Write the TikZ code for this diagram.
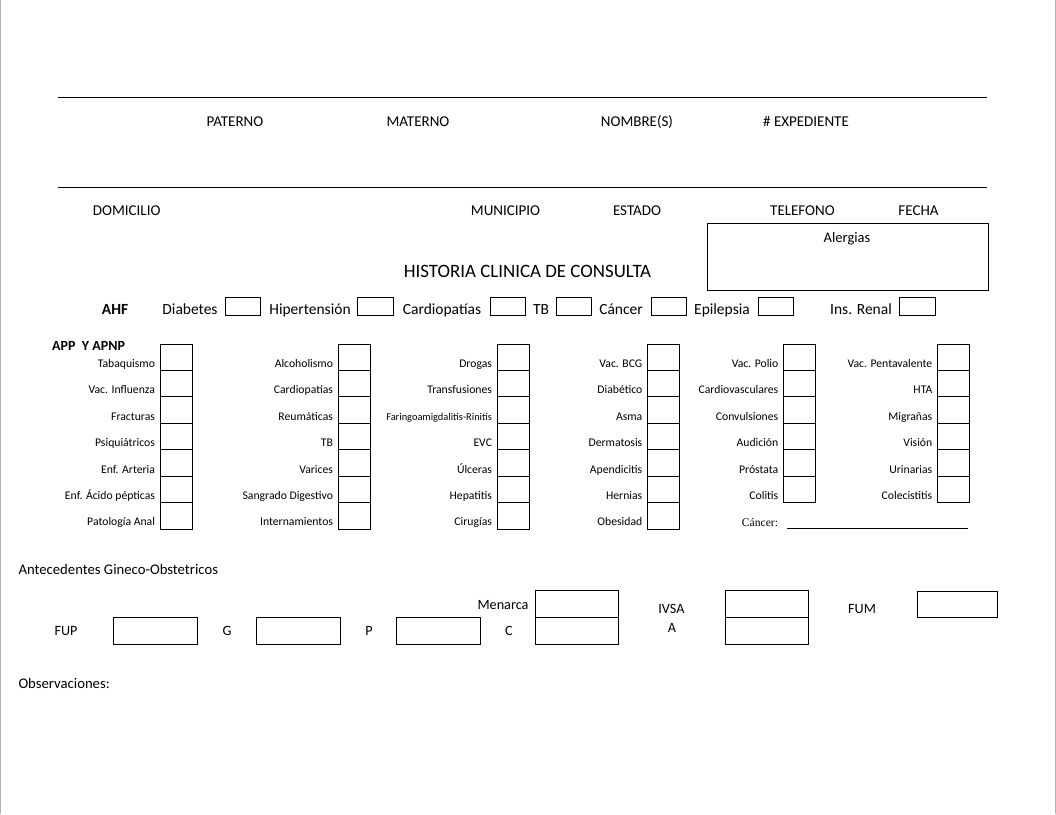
\documentclass[tikz,border=0pt]{standalone}
\usepackage{fontspec}
\setmainfont{Carlito}
\newfontfamily\tnrfont{Liberation Serif}
\begin{document}
\begin{tikzpicture}[x=1pt,y=-1pt,line width=1pt,
  hdr/.style={font=\fontsize{15}{17}\selectfont,inner sep=0pt,anchor=mid},
  tbl/.style={font=\fontsize{11.7}{13}\selectfont,inner sep=0pt,anchor=mid east},
  ahf/.style={font=\fontsize{15.5}{17}\selectfont,inner sep=0pt,anchor=mid},
  gyn/.style={font=\fontsize{14.2}{16}\selectfont,inner sep=0pt,anchor=mid},
  cell/.style={draw,line width=1pt},
  rule/.style={line width=1pt}]
\useasboundingbox (0,0) rectangle (1056,814);
% page edges
\draw[gray!60,line width=1pt] (0.5,0) -- (0.5,814);
\draw[gray!60,line width=1pt] (1055,0) -- (1055,814);
% header lines
\coordinate (l1a) at (58,97); \coordinate (l1b) at (987,97);
\coordinate (l2a) at (58,187.3); \coordinate (l2b) at (987,187.3);
\draw[rule] (l1a) -- (l1b);
\draw[rule] (l2a) -- (l2b);
\node[hdr] (paterno) at (235,123.8) {PATERNO};
\node[hdr] (materno) at (418,123.8) {MATERNO};
\node[hdr] (nombre) at (637,123.8) {NOMBRE(S)};
\node[hdr] (exped) at (806,123.8) {\# EXPEDIENTE};
\node[hdr] (domic) at (126.7,213.5) {DOMICILIO};
\node[hdr] (munic) at (505.5,213.5) {MUNICIPIO};
\node[hdr] (estado) at (637,213.5) {ESTADO};
\node[hdr] (tel) at (802.5,213.5) {TELEFONO};
\node[hdr] (fecha) at (918.5,213.5) {FECHA};
% alergias
\draw[cell] (707.3,223.3) rectangle (988.3,290);
\node[gyn,font=\fontsize{14.5}{16}\selectfont] (alerg) at (847,240) {Alergias};
% title
\node[inner sep=0pt,anchor=mid,font=\fontsize{18.9}{21}\selectfont] (title) at (527.5,275.5) {HISTORIA CLINICA DE CONSULTA};
% AHF row
\node[ahf,font=\fontsize{15.5}{17}\selectfont\bfseries] (ahf) at (115,312.3) {AHF};
\foreach \t/\cx/\ba/\bb [count=\i] in {Diabetes/190/225/260.3,Hipertensión/310/357.7/393.8,Cardiopatías/442/490/525,TB/541/556.6/591.8,Cáncer/621/651/686.5,Epilepsia/722/758/793.5,Ins. Renal/861/899.5/935.4}{
  \node[ahf] (ahf\i) at (\cx,312.3) {\t};
  \draw[cell] (\ba,297.6) rectangle (\bb,315.5);
}
% APP table
\node[inner sep=0pt,anchor=mid west,font=\fontsize{14}{16}\selectfont\bfseries] (app) at (51.7,348.5) {APP\ \ Y APNP};
\foreach \bx/\labs [count=\k] in {
 160/{Tabaquismo,Vac. Influenza,Fracturas,Psiquiátricos,Enf. Arteria,Enf. Ácido pépticas,Patología Anal},
 338/{Alcoholismo,Cardiopatías,Reumáticas,TB,Varices,Sangrado Digestivo,Internamientos},
 497/{Drogas,Transfusiones,{\fontsize{10.4}{12}\selectfont Faringoamigdalitis-Rinitis},EVC,Úlceras,Hepatitis,Cirugías},
 647.3/{Vac. BCG,Diabético,Asma,Dermatosis,Apendicitis,Hernias,Obesidad},
 783.3/{Vac. Polio,Cardiovasculares,Convulsiones,Audición,Próstata,Colitis},
 937.3/{Vac. Pentavalente,HTA,Migrañas,Visión,Urinarias,Colecistitis}}{
  \foreach \t [count=\r from 0] in \labs {
    \draw[cell] (\bx,{344+26.43*\r}) rectangle ({\bx+32},{344+26.43*(\r+1)});
    \node[tbl] (app\k-\r) at ({\bx-4.5},{344+26.43*\r+21}) {\t};
  }
}
\node[inner sep=0pt,anchor=mid east,font=\tnrfont\fontsize{11.6}{13}\selectfont] (cancer) at (778.5,524.5) {Cáncer:};
\coordinate (cla) at (787,528); \coordinate (clb) at (968,528);
\draw[rule] (cla) -- (clb);
% gineco-obstetricos
\node[gyn,anchor=mid west,font=\fontsize{14.7}{16}\selectfont] (anteced) at (18,572) {Antecedentes Gineco-Obstetricos};
\node[gyn] (fup) at (66,633.5) {FUP};
\draw[cell] (113.6,617.3) rectangle (197.3,644);
\node[gyn] (g) at (227,633.5) {G};
\draw[cell] (256.5,617.3) rectangle (340,644);
\node[gyn] (p) at (369,633.5) {P};
\draw[cell] (396,617.3) rectangle (480.4,644);
\node[gyn] (c) at (509,633.5) {C};
\node[gyn] (menarca) at (503,607) {Menarca};
\draw[cell] (535,590.7) rectangle (618.3,617.3);
\draw[cell] (535,617.3) rectangle (618.3,644);
\node[gyn] (ivsa) at (671.5,611) {IVSA};
\node[gyn] (a) at (672,630) {A};
\draw[cell] (725,590.7) rectangle (808,617.3);
\draw[cell] (725,617.3) rectangle (808,644);
\node[gyn] (fum) at (862,611) {FUM};
\draw[cell] (917.3,591) rectangle (997,617.3);
\node[gyn,anchor=mid west,font=\fontsize{14.7}{16}\selectfont] (obs) at (18,686) {Observaciones:};
\end{tikzpicture}
\end{document}
